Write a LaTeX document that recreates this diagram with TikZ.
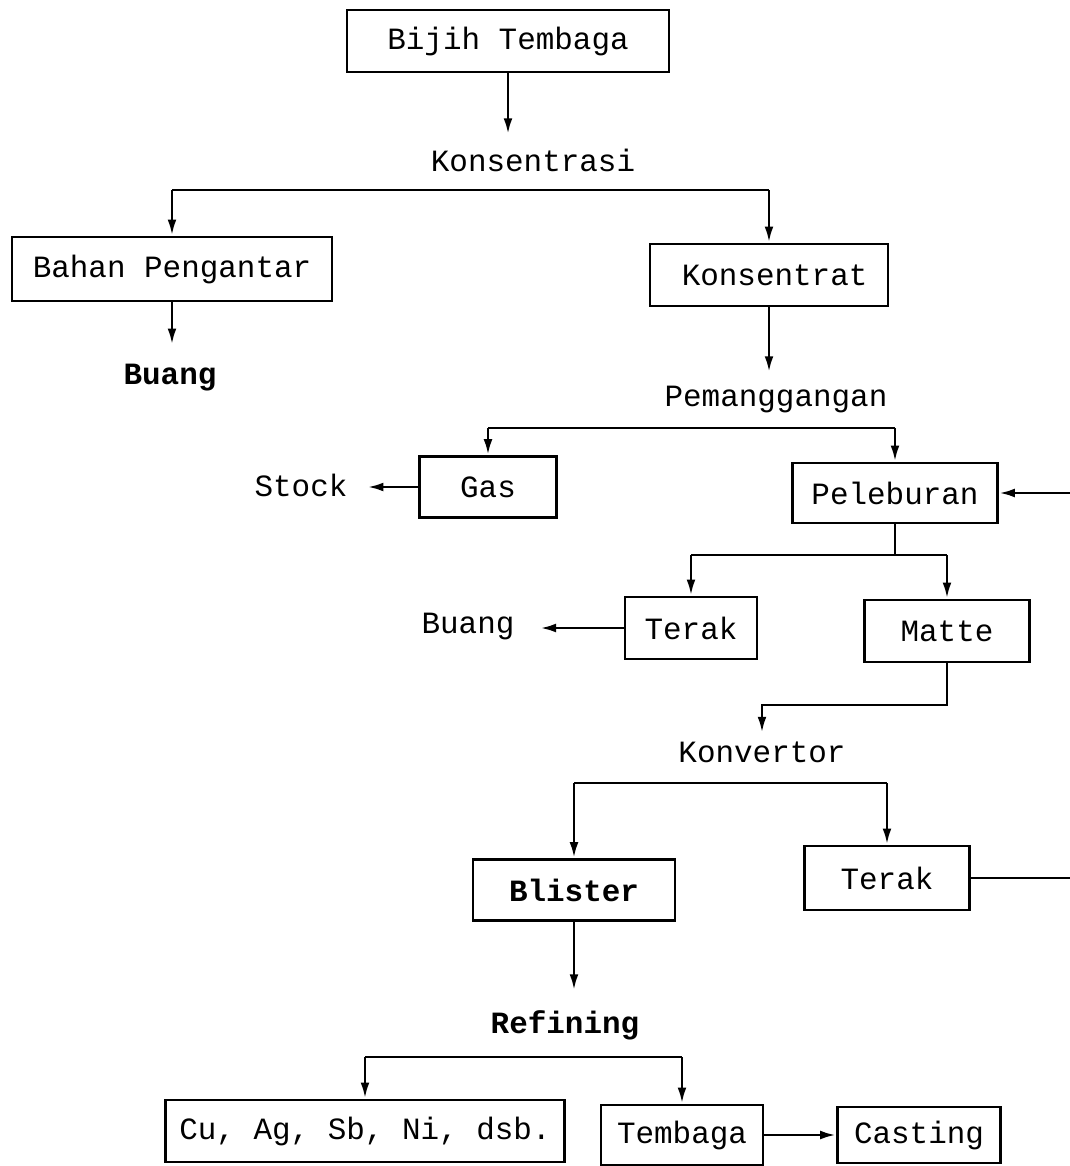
\documentclass[tikz,border=0pt]{standalone}
\usepackage{fontspec}
\setmainfont{Liberation Mono}
\usetikzlibrary{arrows.meta}

\begin{document}
\begin{tikzpicture}[x=0.025cm, y=-0.025cm,
	every node/.style={font=\fontsize{22}{26}\selectfont, inner sep=2pt},
	box/.style={draw, line width=2pt, minimum height=1.55cm},
	arr/.style={line width=2pt, -{Latex[length=4mm, width=2.2mm]}},
	ln/.style={line width=2pt}]
	\useasboundingbox (0,0) rectangle (1070,1166);
	\node[box, minimum width=8.05cm] (bijih) at (508,41) {Bijih Tembaga};
	\node (konsentrasi) at (533,160) {Konsentrasi};
	\node[box, minimum width=8cm, minimum height=1.6cm] (bahan) at (172,269) {Bahan Pengantar};
	\node[box, minimum width=5.95cm] (konsentrat) at (769,275) {\hspace{8pt}Konsentrat};
	\node[font=\fontsize{22}{26}\selectfont\bfseries] (buang) at (170,378) {Buang};
	\node (pemanggangan) at (776,400) {Pemanggangan};
	\node[box, minimum width=3.42cm, minimum height=1.52cm] (gas) at (488,487) {Gas};
	\node (stock) at (301,485) {Stock};
	\node[box, minimum width=5.12cm, minimum height=1.5cm] (lebur) at (895,493) {Peleburan};
	\node[box, minimum width=3.3cm] (terak) at (691,628) {Terak};
	\node (buangb) at (468,627) {Buang};
	\node[box, minimum width=4.12cm] (matte) at (947,631) {Matte};
	\node (konvertor) at (762,752) {Konvertor};
	\node[box, minimum width=5.05cm, minimum height=1.52cm, font=\fontsize{22}{26}\selectfont\bfseries] (blister) at (574,890) {Blister};
	\node[box, minimum width=4.12cm, minimum height=1.6cm] (terakb) at (887,878) {Terak};
	\node[font=\fontsize{22}{26}\selectfont\bfseries] (refining) at (565,1025) {Refining};
	\node[box, minimum width=9.97cm] (cu) at (365,1131) {Cu, Ag, Sb, Ni, dsb.};
	\node[box, minimum width=4.05cm, minimum height=1.5cm] (tembaga) at (682,1135) {Tembaga};
	\node[box, minimum width=4.07cm, minimum height=1.4cm] (casting) at (919,1135) {Casting};
	\coordinate (kbar) at (0,190);
	\coordinate (pbar) at (0,428);
	\coordinate (lbar) at (0,555);
	\coordinate (mbar) at (0,705);
	\coordinate (vbar) at (0,783);
	\coordinate (rbar) at (0,1057);
	\coordinate (masuk) at (1070,493);
	\coordinate (keluar) at (1070,882);
	\draw[arr, shorten >=8pt] (bijih.south) -- (bijih.south |- konsentrasi.north);
	\draw[ln] (bahan.north |- kbar) -- (konsentrat.north |- kbar);
	\draw[arr] (bahan.north |- kbar) -- (bahan.north);
	\draw[arr] (konsentrat.north |- kbar) -- (konsentrat.north);
	\draw[arr, shorten >=12pt] (bahan.south) -- (bahan.south |- buang.north);
	\draw[arr, shorten >=8pt] (konsentrat.south) -- (konsentrat.south |- pemanggangan.north);
	\draw[ln] (gas.north |- pbar) -- (lebur.north |- pbar);
	\draw[arr] (gas.north |- pbar) -- (gas.north);
	\draw[arr] (lebur.north |- pbar) -- (lebur.north);
	\draw[arr, shorten >=12pt] (gas.west) -- (gas.west -| stock.east);
	\draw[arr] (masuk) -- (lebur.east);
	\draw[ln] (lebur.south) -- (lebur.south |- lbar);
	\draw[ln] (terak.north |- lbar) -- (matte.north |- lbar);
	\draw[arr] (terak.north |- lbar) -- (terak.north);
	\draw[arr] (matte.north |- lbar) -- (matte.north);
	\draw[arr, shorten >=16pt] (terak.west) -- (terak.west -| buangb.east);
	\draw[arr, shorten >=4pt] (matte.south) -- (matte.south |- mbar) -| (konvertor.north);
	\draw[ln] (blister.north |- vbar) -- (terakb.north |- vbar);
	\draw[arr] (blister.north |- vbar) -- (blister.north);
	\draw[arr] (terakb.north |- vbar) -- (terakb.north);
	\draw[ln] (terakb.east) -- (terakb.east -| keluar);
	\draw[arr, shorten >=12pt] (blister.south) -- (blister.south |- refining.north);
	\draw[ln] (cu.north |- rbar) -- (tembaga.north |- rbar);
	\draw[arr] (cu.north |- rbar) -- (cu.north);
	\draw[arr] (tembaga.north |- rbar) -- (tembaga.north);
	\draw[arr] (tembaga.east) -- (casting.west);
\end{tikzpicture}
\end{document}
